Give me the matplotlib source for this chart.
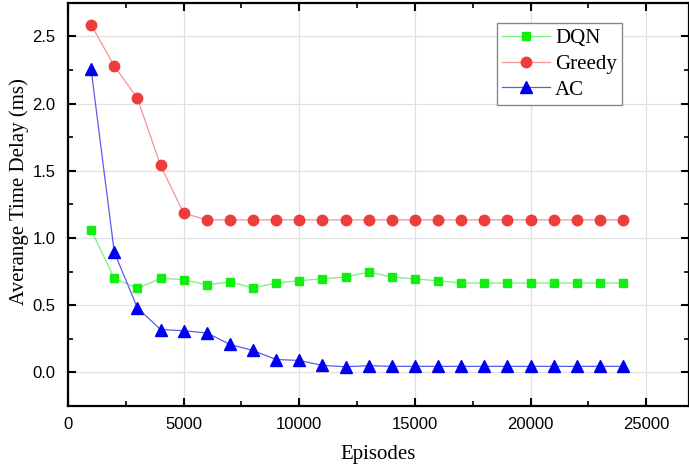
import matplotlib.pyplot as plt
from matplotlib.ticker import MultipleLocator

# Datos
episodes = [1000, 2000, 3000, 4000, 5000, 6000, 7000, 8000, 9000, 10000, 11000, 12000,
            13000, 14000, 15000, 16000, 17000, 18000, 19000, 20000, 21000, 22000, 23000, 24000]
dqn = [1.06, 0.70, 0.625, 0.70, 0.69, 0.653, 0.673, 0.63, 0.665, 0.682, 0.697, 0.71,
       0.747, 0.71, 0.695, 0.682, 0.665, 0.665, 0.665, 0.665, 0.665, 0.665, 0.665, 0.665]
greedy = [2.587, 2.28, 2.04, 1.54, 1.185, 1.135, 1.135, 1.135, 1.135, 1.135, 1.135, 1.135,
          1.135, 1.135, 1.135, 1.135, 1.135, 1.135, 1.135, 1.135, 1.135, 1.135, 1.135, 1.135]
ac = [2.255, 0.895, 0.48, 0.319, 0.31, 0.294, 0.208, 0.163, 0.096, 0.089, 0.052, 0.042,
      0.05, 0.045, 0.045, 0.045, 0.045, 0.045, 0.045, 0.045, 0.045, 0.045, 0.045, 0.045]

serif = 'Liberation Serif'
plt.rcParams['font.family'] = 'Liberation Sans'

fig = plt.figure(figsize=(6.89, 4.71), dpi=100)
ax = fig.add_axes([0.0987, 0.138, 0.9013, 0.856])

ax.plot(episodes, dqn, '-', color='#7CF07C', linewidth=0.9, marker='s', markersize=6,
        markerfacecolor='#11EE11', markeredgecolor='#11EE11', label='DQN')
ax.plot(episodes, greedy, '-', color='#F29494', linewidth=0.9, marker='o', markersize=7.5,
        markerfacecolor='#EE3B3B', markeredgecolor='#EE3B3B', label='Greedy')
ax.plot(episodes, ac, '-', color='#5A5AF0', linewidth=0.9, marker='^', markersize=8,
        markerfacecolor='#0000F0', markeredgecolor='#0000F0', label='AC')

ax.set_xlim(0, 26850)
ax.set_ylim(-0.25, 2.75)
ax.xaxis.set_major_locator(MultipleLocator(5000))
ax.xaxis.set_minor_locator(MultipleLocator(2500))
ax.yaxis.set_major_locator(MultipleLocator(0.5))
ax.yaxis.set_minor_locator(MultipleLocator(0.25))
ax.yaxis.set_major_formatter(plt.FormatStrFormatter('%.1f'))

ax.grid(True, which='major', color='#E0E0E0', linewidth=0.9)
ax.set_axisbelow(True)
ax.tick_params(which='both', direction='in', top=True, right=True, labelsize=12)
ax.tick_params(which='major', length=6, width=1.5)
ax.tick_params(which='minor', length=3.5, width=1.2)
ax.tick_params(axis='x', which='major', pad=8)
ax.tick_params(axis='y', which='major', pad=9)
for s in ax.spines.values():
    s.set_linewidth(1.6)

ax.set_xlabel('Episodes', fontsize=15, family=serif, labelpad=9)
# el texto original dice "Averange"
ax.set_ylabel('Averange Time Delay (ms)', fontsize=15, family=serif)
ax.yaxis.set_label_coords(-0.063, 0.531)

leg = ax.legend(loc='upper right', bbox_to_anchor=(0.909, 0.975), prop={'family': serif, 'size': 15},
                fancybox=False, edgecolor='#888888', framealpha=1, handlelength=2.3,
                handletextpad=0.25, borderpad=0.25, labelspacing=0.3, borderaxespad=0.5)
leg.get_frame().set_linewidth(1.0)

plt.savefig('out.png', dpi=100)
